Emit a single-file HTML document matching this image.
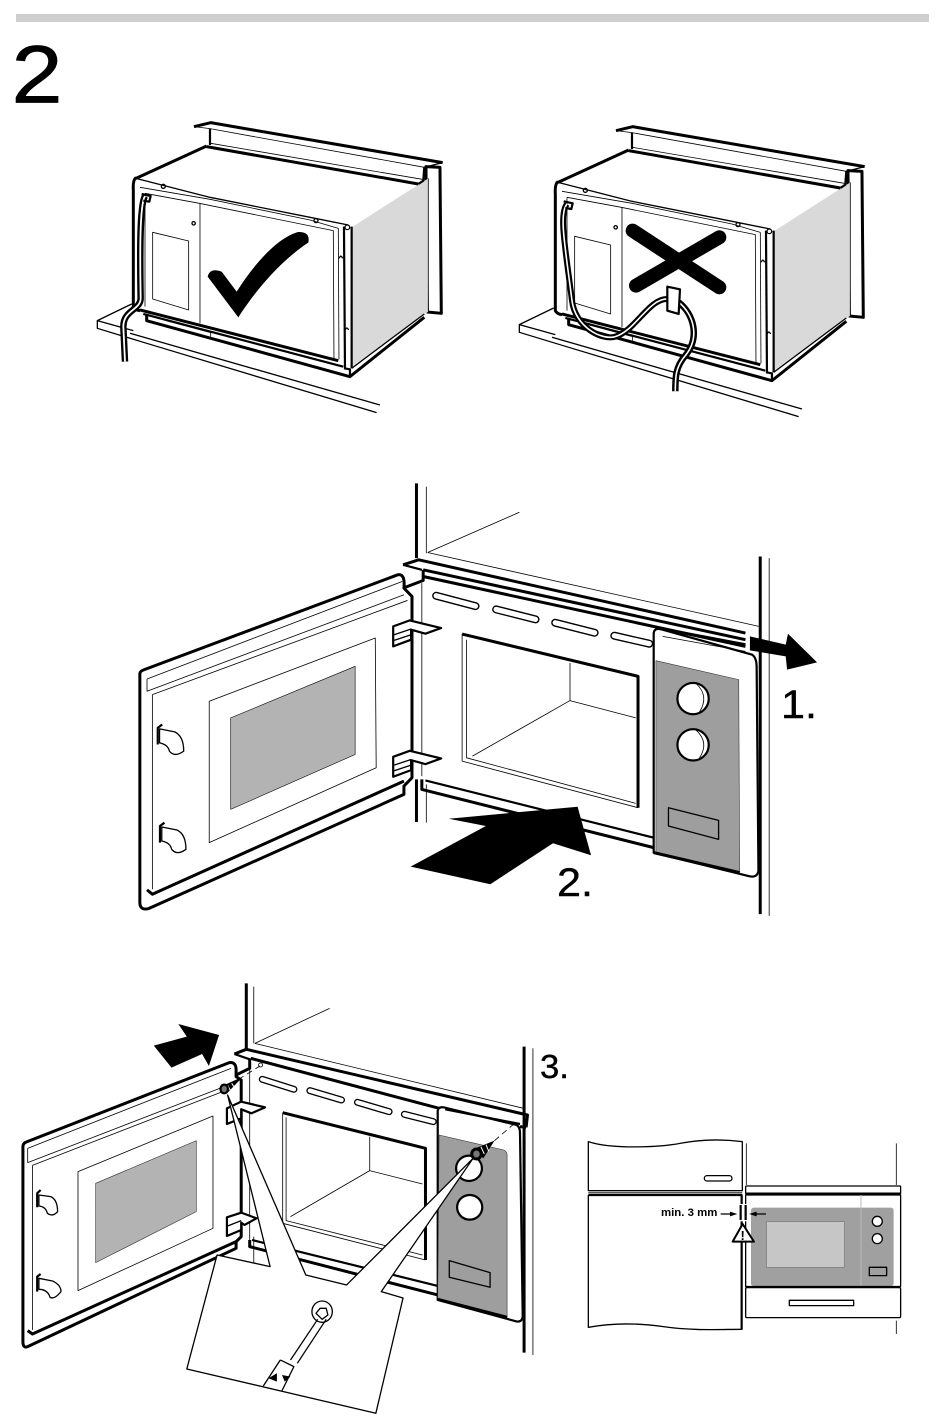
<!DOCTYPE html>
<html><head><meta charset="utf-8"><style>
html,body{margin:0;padding:0;background:#fff}
svg{display:block}
svg *{vector-effect:non-scaling-stroke}
path,line,polygon,rect,circle,ellipse{fill:none;stroke:#000;stroke-linejoin:round}
.t{stroke-width:.8}.m{stroke-width:1.3}.b{stroke-width:2.2}.k{stroke-width:3}
.w{fill:#fff}
.f{fill:#000;stroke:none}
.g{fill:#9e9e9e;stroke:#333;stroke-width:.6}
.lab{font-family:"Liberation Sans",Arial,sans-serif;fill:#000;stroke:#000;stroke-width:.4}
</style></head><body>
<svg width="950" height="1421" viewBox="0 0 950 1421" xmlns="http://www.w3.org/2000/svg">
<rect x="16" y="14" width="913" height="8" style="fill:#cfcfcf;stroke:none"/>
<text class="lab" font-size="82" transform="translate(11.5,102.5) scale(1.12,1)" style="stroke-width:.8">2</text>

<defs>
<g id="box">
 <path class="k w" d="M1008,170 L1050,172 L1054,610 L1012,606 Z"/>
 <polygon points="785,352 1015,205 1015,605 785,770" style="fill:#d9d9d9;stroke:none"/>
 <path class="t" d="M1015,205 L1015,605"/>
 <path class="k" d="M312,50 L362,38 L1058,158"/>
 <path class="m" d="M1058,158 L1003,172"/>
 <path class="t" d="M312,50 L360,56 L1003,172"/>
 <path class="b" d="M360,56 L360,105"/>
 <path class="b" d="M1003,172 L1000,212 L985,222"/>
 <path class="t" d="M362,100 L997,208"/>
 <path class="k" d="M350,110 L985,222"/>
 <path class="k" d="M138,205 L350,108"/>
 <path class="k" d="M138,203 Q128,210 130,240 L130,590 Q135,600 150,602"/>
 <path class="m" d="M138,205 L360,262 L660,322 L775,345"/>
 <path class="t" d="M150,232 L360,268 L660,330 L745,355"/>
 <path class="t" d="M165,250 L328,280 L730,362 L732,748"/>
 <path class="t" d="M165,250 L165,590"/>
 <path class="t" d="M330,280 L330,640"/>
 <path class="t" d="M745,355 L747,748"/>
 <polygon class="t" points="188,367 296,393 296,600 188,567"/>
 <path class="b" d="M762,350 L765,775"/>
 <path class="b" d="M785,350 L785,775"/>
 <circle class="m" cx="220" cy="229" r="6"/><circle class="m" cx="678" cy="332" r="6"/>
 <circle class="m" cx="772" cy="352" r="7"/><circle class="m" cx="311" cy="340" r="5"/>
 <path class="m" d="M748,445 Q752,432 758,445"/><path class="m" d="M766,660 Q770,648 776,660"/>
 <path class="k" d="M150,600 L745,752"/>
 <path class="b" d="M160,612 L760,770"/>
 <path class="k" d="M170,615 L170,632 L780,800 L1003,622"/>
 <path class="t" d="M228,632 L362,668 L362,680"/>
 <path class="b" d="M762,775 L780,778 L780,800"/>
 <path class="m" d="M785,775 L1003,612"/>
 <path class="m" d="M125,582 L22,632 L22,655 L170,700 M170,700 L860,908"/>
 <path class="m" d="M22,632 L130,662"/>
 <path class="m" d="M120,670 L870,885"/>
</g>
</defs>

<!-- panel 1 left -->
<g transform="translate(90,110) scale(.3333)">
 <use href="#box"/>
 <path d="M165,258 C148,285 150,450 152,565 C152,600 100,600 100,650 L105,755" style="stroke-width:6.5;stroke:#000"/>
 <path d="M165,258 C148,285 150,450 152,565 C152,600 100,600 100,650 L105,755" style="stroke-width:1.8;stroke:#fff"/>
 <path class="b" d="M155,252 L182,258 L178,275 L160,272"/>
 <path class="f" d="M353,500 Q360,472 395,485 L440,545 C500,450 570,380 625,366 Q662,365 655,398 C590,440 510,520 445,622 Z"/>
</g>

<!-- panel 1 right -->
<g transform="translate(512,114) scale(.3333)">
 <use href="#box"/>
 <path d="M350,340 L610,510 M610,360 L360,505" transform="translate(12,10)" style="stroke-width:14;stroke-linecap:round"/>
 <g>
 <path d="M165,270 C140,300 160,400 180,560 C190,640 270,680 310,668 C370,650 410,555 465,555" style="stroke-width:6"/>
 <path d="M165,270 C140,300 160,400 180,560 C190,640 270,680 310,668 C370,650 410,555 465,555" style="stroke-width:1.6;stroke:#fff"/>
 <path d="M500,565 C545,600 565,670 520,725 C490,760 490,790 490,832" style="stroke-width:6.5"/>
 <path d="M500,565 C545,600 565,670 520,725 C490,760 490,790 490,832" style="stroke-width:1.6;stroke:#fff"/>
 <polygon class="b w" points="466,518 504,526 500,600 466,590"/>
 <path class="b" d="M155,262 L182,268 L178,285 L160,282"/>
 </g>
</g>

<!-- panel 2 -->
<g transform="translate(130,480) scale(.4476,.3327)">
 <path class="k" d="M640,10 L640,235 M640,900 L640,1028"/>
 <path class="t" d="M662,20 L662,220 M662,915 L662,1030"/>
 <path class="t" d="M665,218 L870,97 M665,218 L1405,440"/>
 <path class="k" d="M1408,230 L1408,1305"/>
 <path class="t" d="M1428,235 L1428,1310"/>
 <path class="k" d="M610,255 L645,240 L1375,460"/>
 <path class="b" d="M610,255 L652,270"/>
 <path class="k" d="M655,270 L1375,480"/>
 <path class="k" d="M655,290 L1375,500"/>
 <path class="k" d="M655,270 L655,302 L610,325"/>
 <path class="t" d="M652,310 L652,890"/>
 <g>
  <path d="M684,348 L772,379 M818,389 L906,419 M950,429 L1038,459 M1082,468 L1160,492" style="stroke-width:8;stroke-linecap:round"/>
  <path d="M684,348 L772,379 M818,389 L906,419 M950,429 L1038,459 M1082,468 L1160,492" style="stroke-width:5.2;stroke:#fff;stroke-linecap:round"/>
 </g>
 <path class="k" d="M742,463 L1135,590 L1135,985"/>
 <path class="t" d="M742,463 L742,845 L1135,985"/>
 <path class="t" d="M752,480 L752,835 L1130,972"/>
 <path class="t" d="M983,550 L983,663 L1130,715 M983,663 L765,830"/>
 <path class="k" d="M652,900 L652,930 L1170,1105"/>
 <path class="b" d="M660,903 L1170,1075"/>
 <!-- door -->
 <path class="k w" d="M22,582 Q22,575 32,570 L598,285 Q615,280 612,325 L630,350 L630,895 L612,920 L612,945 L42,1288 Q22,1295 22,1270 Z"/>
 <path class="t" d="M38,598 L608,305 M38,598 L38,635 L612,345"/>
 <path class="t" d="M50,645 L620,362 M50,645 L50,1230"/>
 <path class="k" d="M38,1232 L50,1245 L612,905"/>
 <polygon class="t" points="177,665 548,475 550,865 177,1090"/>
 <polygon class="t" points="225,715 503,560 503,825 225,990" style="fill:#b3b3b3;stroke-width:.6"/>
 <path class="m w" d="M66,748 L100,757 Q120,770 120,815 Q100,835 88,815 Q85,795 66,790 Z"/>
 <path class="b" d="M72,735 L62,745 L62,795"/>
 <g transform="translate(5,295)">
 <path class="m w" d="M66,748 L100,757 Q120,770 120,815 Q100,835 88,815 Q85,795 66,790 Z"/>
 <path class="b" d="M72,735 L62,745 L62,795"/>
 </g>
 <g>
 <polygon class="b w" points="588,440 625,422 695,445 660,462 628,450 628,480 588,500"/>
 <path class="m" d="M590,465 L628,448 M590,482 L628,465"/>
 </g>
 <g transform="translate(0,392)">
 <polygon class="b w" points="588,440 625,422 695,445 660,462 628,450 628,480 588,500"/>
 <path class="m" d="M590,465 L628,448 M590,482 L628,465"/>
 </g>
 <!-- control panel -->
 <path class="b w" d="M1170,460 Q1172,442 1190,450 L1390,525 Q1400,535 1400,560 L1404,1175 Q1401,1198 1381,1190 L1170,1120 Z"/>
 <path class="g" d="M1175,543 L1360,600 L1362,1178 L1175,1120 Z"/>
 <path class="k" d="M1170,1120 L1362,1180"/>
 <path class="k" d="M1190,448 L1375,495"/>
 <path class="t" d="M1190,470 L1375,515"/>
 <ellipse class="b w" cx="1258" cy="657" rx="35" ry="47"/>
 <ellipse class="b w" cx="1258" cy="796" rx="35" ry="47"/>
 <path class="t" d="M1265,612 Q1295,650 1272,698 M1265,752 Q1295,790 1272,836"/>
 <polygon class="m" points="1203,985 1315,1023 1315,1080 1203,1040"/>
 <polygon class="f" points="1385,470 1465,495 1470,462 1535,548 1468,570 1465,530 1385,512"/>
 <polygon class="f" points="712,1018 1000,982 1030,1128 945,1092 805,1215 627,1162 795,1040"/>
</g>
<text class="lab" font-size="40" transform="translate(781,718) scale(1.08,1)">1.</text>
<text class="lab" font-size="40" transform="translate(557,896) scale(1.08,1)">2.</text>

<!-- panel 3 -->
<g transform="translate(10,980) scale(.34,.3333)">
 <path class="k" d="M695,10 L695,205"/>
 <path class="t" d="M717,20 L717,190"/>
 <path class="t" d="M720,190 L940,85 M720,190 L1510,385"/>
 <path class="k" d="M1512,200 L1512,1118"/>
 <path class="t" d="M1538,205 L1538,1125"/>
 <polygon class="f" points="423,197 520,170 495,132 615,165 585,258 565,222 475,263"/>
 <path class="k" d="M660,222 L695,208 L1522,405 L1518,442"/>
 <path class="b" d="M660,222 L705,238"/>
 <path class="k" d="M708,235 L1262,385"/>
 <path class="k" d="M705,235 L705,265 L665,285"/>
 <path class="t" d="M705,262 L705,780 M717,770 L717,860"/>
 <circle class="t" cx="737" cy="255" r="6"/>
 <g>
  <path d="M742,298 L835,328 M882,332 L975,360 M1022,367 L1115,395 M1160,403 L1245,425" style="stroke-width:7;stroke-linecap:round"/>
  <path d="M742,298 L835,328 M882,332 L975,360 M1022,367 L1115,395 M1160,403 L1245,425" style="stroke-width:4.4;stroke:#fff;stroke-linecap:round"/>
 </g>
 <path class="k" d="M802,398 L1222,505 L1222,840"/>
 <path class="t" d="M802,398 L802,730 L1222,840"/>
 <path class="t" d="M812,412 L812,722 L1213,825"/>
 <path class="t" d="M1058,470 L1058,572 L1213,612 M1058,572 L825,710"/>
 <path class="k" d="M705,780 L705,800 L1258,945"/>
 <path class="b" d="M712,780 L1258,918"/>
 <!-- door -->
 <path class="k w" d="M38,500 Q38,490 48,486 L645,248 Q665,245 665,270 L665,290 L680,300 L680,770 L665,785 L665,805 L52,1100 Q38,1106 38,1085 Z"/>
 <path class="t" d="M52,505 L650,265 M52,505 L52,548 L650,312"/>
 <path class="t" d="M66,556 L650,325 M66,556 L66,1050"/>
 <path class="k" d="M52,1052 L66,1062 L665,785"/>
 <polygon class="t" points="200,575 597,408 597,745 200,932"/>
 <polygon points="252,610 548,482 548,695 252,848" style="fill:#b3b3b3;stroke:#333;stroke-width:.6"/>
 <path class="m w" d="M85,645 L120,650 Q140,660 140,695 Q125,712 110,700 Q105,680 85,678 Z"/>
 <path class="b" d="M90,630 L80,640 L80,682"/>
 <path class="m w" d="M85,895 L125,903 Q150,915 150,935 Q130,960 118,952 Q110,928 85,928 Z"/>
 <path class="b" d="M90,882 L80,890 L80,935"/>
 <polygon class="b w" points="638,385 680,365 750,382 710,400 680,388 680,415 638,432"/>
 <polygon class="b w" points="638,712 680,698 725,715 690,735 680,728 680,750 638,768"/>
 <path class="m" d="M640,738 L680,722"/>
 <!-- control panel -->
 <path class="b w" d="M1258,392 Q1260,380 1275,382 L1490,435 Q1500,440 1500,460 L1508,1010 Q1505,1028 1488,1024 L1258,960 Z"/>
 <path class="g" d="M1262,465 L1452,510 Q1462,515 1462,525 L1462,1012 L1258,955 Z"/>
 <path class="k" d="M1258,958 L1462,1012"/>
 <path class="b" d="M1280,388 L1500,432"/>
 <path class="k" d="M1500,440 L1518,442"/>
 <circle class="b w" cx="1352" cy="682" r="37"/>
 <circle class="b w" cx="1350" cy="565" r="38"/>
 <polygon class="m" points="1292,842 1412,878 1412,922 1292,892"/>
 <!-- callout -->
 <polygon class="m w" points="609,825 765,860 640,345 870,885 990,915 1362,535 1092,935 1156,954 1076,1300 520,1167"/>
 <path class="t" d="M672,298 L735,258" stroke-dasharray="6 4"/>
 <path class="t" d="M1425,482 L1490,425" stroke-dasharray="6 4"/>
 <g>
  <polygon class="f" points="628,316 672,296 676,300 640,338"/>
  <path d="M640,316 L650,334 M652,310 L662,326" style="stroke:#fff;stroke-width:1"/>
  <ellipse class="b" cx="630" cy="327" rx="11" ry="13" style="fill:#777"/>
 </g>
 <g>
  <polygon class="f" points="1368,505 1425,482 1392,535"/>
  <path d="M1385,500 L1395,522 M1400,494 L1408,514" style="stroke:#fff;stroke-width:1"/>
  <ellipse class="k" cx="1372" cy="522" rx="14" ry="15" style="fill:#777"/>
 </g>
 <!-- screwdriver -->
 <ellipse class="m" cx="918" cy="995" rx="30" ry="32"/>
 <path class="m" d="M900,1000 L912,985 L930,985 L935,1005 L918,1018 Z"/>
 <path class="m" d="M905,1018 L825,1140 M930,1018 L845,1150"/>
 <path class="m" d="M795,1140 L835,1160 L800,1232 M795,1140 L745,1218"/>
 <polygon class="f" points="760,1195 785,1180 785,1205"/>
 <polygon class="f" points="825,1190 800,1185 808,1205"/>
</g>
<text class="lab" font-size="33" transform="translate(540,1078) scale(1.05,1)">3.</text>

<!-- mini diagram -->
<g transform="translate(580,1130) scale(.3333)">
 <path class="m" d="M25,35 C100,60 250,50 300,40 C380,25 450,30 487,35 L487,182 L25,182 Z"/>
 <rect class="m" x="373" y="137" width="83" height="16" rx="8"/>
 <path class="k" d="M25,188 L487,188" style="stroke:#555;stroke-width:1.5"/>
 <path class="b" d="M25,195 L487,195"/>
 <path class="m" d="M25,195 L25,592 C100,578 180,580 250,590 C340,603 420,598 487,598"/>
 <path class="b" d="M485,195 L485,598"/>
 <path class="t" d="M499,40 L499,165 M949,40 L949,165 M949,572 L949,612"/>
 <rect class="m" x="497" y="168" width="465" height="24" rx="3"/>
 <path class="k" d="M497,192 L962,192"/>
 <path class="m w" d="M497,195 L962,195 L962,470 L497,470 Z"/>
 <rect x="513" y="233" width="428" height="235" rx="8" style="fill:#a0a0a0;stroke:none"/>
 <rect x="560" y="275" width="233" height="137" style="fill:#c6c6c6;stroke:#777;stroke-width:.6"/>
 <path d="M843,195 L843,468" style="stroke:#bbb;stroke-width:1"/>
 <circle class="m w" cx="892" cy="274" r="15"/>
 <circle class="m w" cx="892" cy="326" r="15"/>
 <rect class="m" x="868" y="412" width="52" height="25"/>
 <path class="k" d="M497,470 L962,470" style="stroke-width:1.5"/>
 <rect class="m" x="497" y="473" width="465" height="90" rx="4"/>
 <rect class="m" x="628" y="511" width="193" height="16"/>
 <rect x="478" y="222" width="30" height="52" style="fill:#fff;stroke:none"/>
 <path class="b" d="M482,225 L482,270 M497,225 L497,270"/>
 <path class="m" d="M422,252 L455,252 M558,252 L520,252"/>
 <polygon class="f" points="472,252 450,245 450,259"/>
 <polygon class="f" points="507,252 530,245 530,259"/>
 <polygon class="w" points="488,282 522,335 458,335" style="stroke-width:2"/>
</g>
<text class="lab" x="661" y="1216" font-size="11.4" font-weight="bold" style="stroke:none">min. 3 mm</text>
<text class="lab" x="740.5" y="1240" font-size="13" font-weight="bold" style="stroke:none">!</text>
</svg>
</body></html>
